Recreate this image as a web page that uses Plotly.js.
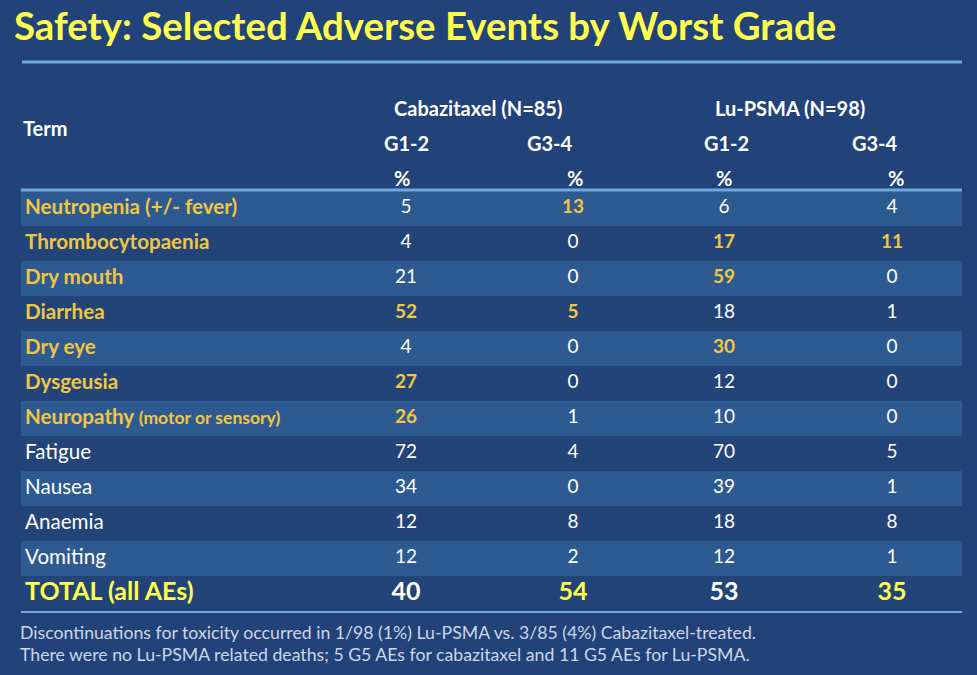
<!DOCTYPE html>
<html><head><meta charset="utf-8">
<script src="https://cdn.plot.ly/plotly-3.0.1.min.js"></script>
<style>html,body{margin:0;padding:0;background:#22427A;}</style>
</head><body><div id="chart" style="width:977px;height:675px;"></div>
<script>
// ---- data ----
const titleText = "Safety: Selected Adverse Events by Worst Grade";
const termHeader = "Term";
const groupLabels = ["Cabazitaxel (N=85)", "Lu-PSMA (N=98)"];
const gradeLabels = ["G1-2", "G3-4", "G1-2", "G3-4"];
const unitLabel = "%";
const terms = ["Neutropenia (+/- fever)", "Thrombocytopaenia", "Dry mouth", "Diarrhea", "Dry eye", "Dysgeusia", "Neuropathy", "Fatigue", "Nausea", "Anaemia", "Vomiting"];
const termNotes = ["", "", "", "", "", "", "(motor or sensory)", "", "", "", ""];
const highlightTerm = [1, 1, 1, 1, 1, 1, 1, 0, 0, 0, 0];
const cabG12 = [5, 4, 21, 52, 4, 27, 26, 72, 34, 12, 12];
const cabG34 = [13, 0, 0, 5, 0, 0, 1, 4, 0, 8, 2];
const luG12 = [6, 17, 59, 18, 30, 12, 10, 70, 39, 18, 12];
const luG34 = [4, 11, 0, 1, 0, 0, 0, 5, 1, 8, 1];
const hiCabG12 = [0, 0, 0, 1, 0, 1, 1, 0, 0, 0, 0];
const hiCabG34 = [1, 0, 0, 1, 0, 0, 0, 0, 0, 0, 0];
const hiLuG12 = [0, 1, 1, 0, 1, 0, 0, 0, 0, 0, 0];
const hiLuG34 = [0, 1, 0, 0, 0, 0, 0, 0, 0, 0, 0];
const totalLabel = "TOTAL (all AEs)";
const totals = [40, 54, 53, 35];
const totalHighlight = [0, 1, 0, 1];
const footnotes = [
  "Discontinuations for toxicity occurred in 1/98 (1%) Lu-PSMA vs. 3/85 (4%) Cabazitaxel-treated.",
  "There were no Lu-PSMA related deaths; 5 G5 AEs for cabazitaxel and 11 G5 AEs for Lu-PSMA."
];

// ---- styling / layout constants ----
const W = 977, H = 675;
const FONT = "Lato, 'Open Sans', sans-serif";
const BG = "#22427A";
const ROW_LIGHT = "#2E5A92";
const ROW_DARK = "#234479";
const GOLD = "#F2C641";
const YELLOW = "#FFFF4D";
const WHITE = "#FFFFFF";
const LINE = "#6FA8DC";
const TABLE_L = 21, TABLE_R = 962, TABLE_T = 191, ROW_H = 35;
const colCenters = [406, 573, 724, 892];
const px = x => x / W;
const py = y => 1 - y / H;

const rowKeys = terms.concat([totalLabel]);
const nRows = rowKeys.length;
const lastRow = nRows - 1;
const valueCols = [cabG12, cabG34, luG12, luG34];
const hiCols = [hiCabG12, hiCabG34, hiLuG12, hiLuG34];

const traces = [];
// row backgrounds (one full-width bar per row)
traces.push({
  type: 'bar', orientation: 'h',
  y: rowKeys, x: rowKeys.map(() => TABLE_R - TABLE_L), base: TABLE_L,
  width: 1,
  marker: {color: rowKeys.map((_, i) => i === lastRow ? ROW_DARK : (i % 2 === 0 ? ROW_LIGHT : ROW_DARK)), line: {width: 0}},
  hoverinfo: 'skip'
});

// term column
const termText = terms.map((t, i) => {
  let s = t;
  if (termNotes[i]) s += ' <span style="font-size:17.5px">' + termNotes[i] + '</span>';
  return highlightTerm[i] ? '<b>' + s + '</b>' : s;
}).concat(['<b>' + totalLabel + '</b>']);
traces.push({
  type: 'scatter', mode: 'text', cliponaxis: false,
  x: rowKeys.map(() => TABLE_L + 4), y: rowKeys, text: termText,
  textposition: 'middle right',
  textfont: {family: FONT, size: rowKeys.map((_, i) => i === lastRow ? 25 : 20.6),
             color: highlightTerm.map(h => h ? GOLD : WHITE).concat([YELLOW])},
  hoverinfo: 'skip'
});

// value columns
valueCols.forEach((vals, c) => {
  const txt = vals.map((v, i) => hiCols[c][i] ? '<b>' + v + '</b>' : String(v)).concat(['<b>' + totals[c] + '</b>']);
  const col = vals.map((v, i) => hiCols[c][i] ? GOLD : WHITE).concat([totalHighlight[c] ? YELLOW : WHITE]);
  traces.push({
    type: 'scatter', mode: 'text', cliponaxis: false,
    x: rowKeys.map(() => colCenters[c]), y: rowKeys, text: txt,
    textposition: 'middle center',
    textfont: {family: FONT, size: rowKeys.map((_, i) => i === lastRow ? 25 : 19), color: col},
    hoverinfo: 'skip'
  });
});

const annotations = [];
const hdrFont = {family: FONT, size: 20, color: WHITE};
annotations.push({x: px(21), y: py(128), xref: 'paper', yref: 'paper', xanchor: 'left', yanchor: 'middle', showarrow: false, text: '<b>' + termHeader + '</b>', font: hdrFont});
[478, 790].forEach((x, i) => annotations.push({x: px(x), y: py(108), xref: 'paper', yref: 'paper', xanchor: 'center', yanchor: 'middle', showarrow: false, text: '<b>' + groupLabels[i] + '</b>', font: hdrFont}));
[406, 550, 726, 875].forEach((x, i) => annotations.push({x: px(x), y: py(143), xref: 'paper', yref: 'paper', xanchor: 'center', yanchor: 'middle', showarrow: false, text: '<b>' + gradeLabels[i] + '</b>', font: hdrFont}));
[402, 575, 724, 896].forEach((x) => annotations.push({x: px(x), y: py(178), xref: 'paper', yref: 'paper', xanchor: 'center', yanchor: 'middle', showarrow: false, text: '<b>' + unitLabel + '</b>', font: hdrFont}));
[632, 654].forEach((y, i) => annotations.push({x: px(18), y: py(y), xref: 'paper', yref: 'paper', xanchor: 'left', yanchor: 'middle', showarrow: false, text: footnotes[i], font: {family: FONT, size: 17.7, color: '#CDD6E6'}}));

const shapes = [
  {type: 'line', xref: 'paper', yref: 'paper', x0: px(22), x1: px(962), y0: py(62), y1: py(62), line: {color: LINE, width: 3}},
  {type: 'line', xref: 'paper', yref: 'paper', x0: px(21), x1: px(962), y0: py(190), y1: py(190), line: {color: LINE, width: 3}},
  {type: 'line', xref: 'paper', yref: 'paper', x0: px(21), x1: px(962), y0: py(612), y1: py(612), line: {color: LINE, width: 2}}
];

const tableBottom = TABLE_T + ROW_H * nRows;
const layout = {
  width: W, height: H,
  margin: {l: 0, r: 0, t: 0, b: 0, pad: 0},
  paper_bgcolor: BG, plot_bgcolor: 'rgba(0,0,0,0)',
  xaxis: {range: [0, W], domain: [0, 1], visible: false, fixedrange: true},
  yaxis: {type: 'category', categoryarray: rowKeys, categoryorder: 'array',
          range: [nRows - 0.5, -0.5], domain: [py(tableBottom), py(TABLE_T)], visible: false, fixedrange: true},
  bargap: 0,
  title: {text: '<b>' + titleText + '</b>', x: px(14), xanchor: 'left', xref: 'paper', y: py(27), yref: 'container', yanchor: 'middle', font: {family: FONT, size: 38.4, color: YELLOW}},
  annotations: annotations,
  shapes: shapes,
  showlegend: false
};
Plotly.newPlot('chart', traces, layout, {displayModeBar: false, staticPlot: true});
</script></body></html>
